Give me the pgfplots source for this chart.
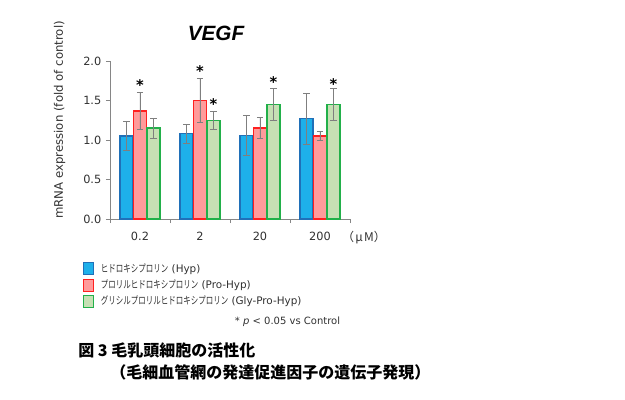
\documentclass[border=0pt]{standalone}
\usepackage{pgfplots}
\pgfplotsset{compat=1.18}
\usepackage{graphicx}
\usepackage{fontspec}
\setmainfont{DejaVu Sans}
\newfontfamily\cjk{Noto Sans CJK JP}
\newfontfamily\titlefont{Liberation Sans}
\newcommand{\jn}[1]{\scalebox{0.72}[1]{\cjk #1}}
\definecolor{hypfill}{HTML}{1EB0EA}
\definecolor{hypdraw}{HTML}{2070B8}
\definecolor{profill}{HTML}{FF9B9B}
\definecolor{prodraw}{HTML}{FF2020}
\definecolor{glyfill}{HTML}{C6E0B4}
\definecolor{glydraw}{HTML}{22B04A}
\definecolor{axisgray}{HTML}{868686}
\definecolor{errgray}{HTML}{7F7F7F}
\definecolor{textgray}{HTML}{303030}
\begin{document}
\begin{tikzpicture}[x=0.75pt,y=0.75pt]
\path[use as bounding box] (-110,-181) rectangle (515,219);
\begin{axis}[
  at={(0,0)}, anchor=south west,
  scale only axis, width=180pt, height=118.5pt,
  xmin=-0.5, xmax=3.5, ymin=0, ymax=2,
  axis x line*=bottom, axis y line*=left,
  axis line style={-, draw=axisgray, line width=0.6pt},
  tick align=outside,
  major tick length=3pt, minor tick length=3pt,
  ytick={0,0.5,1,1.5,2},
  ytick style={draw=axisgray, line width=0.6pt},
  xtick={0,1,2,3}, xticklabels={0.2,2,20,200},
  major x tick style={draw=none},
  minor xtick={-0.5,0.5,1.5,2.5,3.5},
  minor x tick style={draw=axisgray, line width=0.6pt},
  /pgf/number format/assume math mode=true,
  y tick label style={/pgf/number format/.cd, fixed, fixed zerofill, precision=1},
  x tick label style={yshift=-3pt},
  tick label style={font=\fontsize{8.5}{10}\selectfont, text=textgray},
  ylabel={mRNA expression (fold of control)},
  ylabel style={at={(rel axis cs:-0.1667,0.627)}, anchor=south, rotate=0, font=\fontsize{8.8}{10}\selectfont, text=textgray},
  legend image code/.code={\draw[#1, line width=0.8pt] (0pt,-4.5pt) rectangle (7pt,4.5pt);},
  legend style={at={(rel axis cs:-0.1125,-0.2722)}, anchor=north west, draw=none, fill=none,
    inner sep=0pt, row sep=2.5pt, font=\fontsize{7.8}{9}\selectfont, text=textgray,
    nodes={inner sep=0pt, text height=7pt, text depth=2pt}},
  legend cell align=left,
  clip=false,
]
\addplot[ybar, bar width=0.21, bar shift=0, fill=hypfill, draw=hypdraw, line width=1.1pt,
  error bars/.cd, y dir=both, y explicit,
  error bar style={errgray, line width=0.5pt},
  error mark options={errgray, line width=0.5pt, mark size=2.3pt, rotate=90}]
  coordinates {(-0.225,1.05) +- (0,0.18) (0.775,1.08) +- (0,0.12) (1.775,1.06) +- (0,0.25) (2.775,1.27) +- (0,0.32)};
\addlegendentry{\hspace{5.5pt}\jn{ヒドロキシプロリン} (Hyp)}
\addplot[ybar, bar width=0.21, bar shift=0, fill=profill, draw=prodraw, line width=1.1pt,
  error bars/.cd, y dir=both, y explicit,
  error bar style={errgray, line width=0.5pt},
  error mark options={errgray, line width=0.5pt, mark size=2.3pt, rotate=90}]
  coordinates {(0,1.37) +- (0,0.23) (1,1.50) +- (0,0.275) (2,1.15) +- (0,0.135) (3,1.05) +- (0,0.055)};
\addlegendentry{\hspace{5.5pt}\jn{プロリルヒドロキシプロリン} (Pro-Hyp)}
\addplot[ybar, bar width=0.21, bar shift=0, fill=glyfill, draw=glydraw, line width=1.1pt,
  error bars/.cd, y dir=both, y explicit,
  error bar style={errgray, line width=0.5pt},
  error mark options={errgray, line width=0.5pt, mark size=2.3pt, rotate=90}]
  coordinates {(0.225,1.15) +- (0,0.125) (1.225,1.25) +- (0,0.115) (2.225,1.45) +- (0,0.205) (3.225,1.45) +- (0,0.20)};
\addlegendentry{\hspace{5.5pt}\jn{グリシルプロリルヒドロキシプロリン} (Gly-Pro-Hyp)}
\addplot[draw=none, mark=none, forget plot, nodes near coords={*},
  every node near coord/.style={anchor=center, font=\bfseries\fontsize{11}{11}\selectfont, text=black, yshift=-2.8pt}]
  coordinates {(0,1.74) (1,1.915) (1.225,1.50) (2.225,1.78) (3.225,1.76)};
\end{axis}
\node[font=\titlefont\bfseries\itshape\fontsize{15.5}{16}\selectfont] at (106,186) {VEGF};
\node[font=\cjk\fontsize{9}{10}\selectfont, text=textgray] at (254,-19) {（\kern1pt μ\kern1pt M）};
\node[font=\fontsize{7.5}{9}\selectfont, text=textgray] at (177.5,-103) {* \textit{p} < 0.05 vs Control};
\node[anchor=west, inner sep=0pt, font=\cjk\bfseries\fontsize{12}{14}\selectfont] at (-32,-131.7) {図 3 毛乳頭細胞の活性化};
\node[anchor=west, inner sep=0pt, font=\cjk\bfseries\fontsize{12}{14}\selectfont] at (0,-153.7) {（毛細血管網の発達促進因子の遺伝子発現）};
\end{tikzpicture}
\end{document}
